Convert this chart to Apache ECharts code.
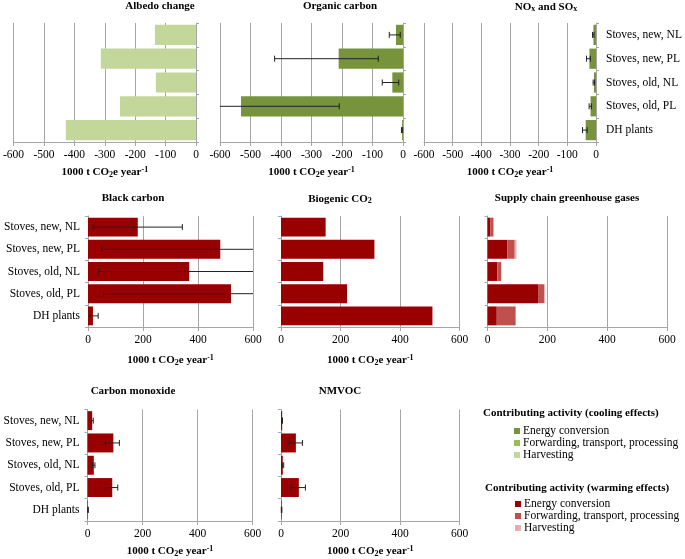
<!DOCTYPE html>
<html><head><meta charset="utf-8">
<script src="https://cdn.jsdelivr.net/npm/echarts@6/dist/echarts.min.js"></script>
<style>html,body{margin:0;padding:0;background:#fff}#c{width:685px;height:559px}</style>
</head><body><div id="c"></div>
<script>
// ---------- data ----------
const categories = ['Stoves, new, NL','Stoves, new, PL','Stoves, old, NL','Stoves, old, PL','DH plants'];
const negTicks = [-600,-500,-400,-300,-200,-100,0];
const posTicks = [0,200,400,600];

const albedoHarvest = [-135,-313,-132,-250,-428];

const ocEnergy = [-23,-211,-35,-531,-3];
const ocErrLow = [-45,-421,-68,-600,-5];
const ocErrHigh = [-9,-81,-14,-209,-1];

const noxEnergy = [-9,-23,-7,-19,-36];
const noxErrLow = [-12,-33,-10,-24,-47];
const noxErrHigh = [-7,-20,-5,-16,-31];

const bcEnergy = [181,481,368,520,18];
const bcErrLow = [19,50,37,56,0];
const bcErrHigh = [343,600,600,600,37];

const bioEnergy = [150,314,142,222,509];

const scEnergy = [9,66,33,169,31];
const scForward = [11,25,13,20,63];
const scHarvest = [0,6,0,4,0];

const coEnergy = [17,94,23,90,2];
const coErrLow = [14,65,18,65,1];
const coErrHigh = [21,116,27,110,3];

const nmEnergy = [4,50,6,60,2];
const nmErrLow = [3,27,4,34,1];
const nmErrHigh = [5,72,9,82,3];

// ---------- style ----------
const FONT = 'Liberation Serif';
const COOL = ['#77933c','#9bbb59','#c4d79b'];
const WARM = ['#990000','#c0504d','#e6b0b0'];
const GRID_C = '#a6a6a6';

const grids = [
  {left:13, top:23, width:183, height:119},
  {left:220, top:23, width:183, height:119},
  {left:424, top:23, width:172, height:119},
  {left:88, top:216, width:165, height:111},
  {left:281, top:216, width:178.5, height:111},
  {left:487.5, top:216, width:179.5, height:111},
  {left:87.5, top:409.5, width:165, height:112},
  {left:281, top:409.5, width:178.5, height:112}
];

const nameRich = {
  b:{fontFamily:FONT,fontWeight:'bold',fontSize:11,color:'#000'},
  sub:{fontFamily:FONT,fontWeight:'bold',fontSize:8,color:'#000',verticalAlign:'bottom',padding:[4,0,0,0]},
  sup:{fontFamily:FONT,fontWeight:'bold',fontSize:8,color:'#000',verticalAlign:'top',padding:[0,0,5,0]}
};
const axisNameText = '{b|1000 t CO}{sub|2}{b|e year}{sup|-1}';

function xAxisFor(i, neg, showName, gap) {
  const ticks = neg ? negTicks : posTicks;
  return {
    type:'value', gridIndex:i,
    min:ticks[0], max:ticks[ticks.length-1], interval:ticks[1]-ticks[0],
    axisLine:{show:true,lineStyle:{color:GRID_C,width:1}},
    axisTick:{show:true,length:4,lineStyle:{color:GRID_C}},
    axisLabel:{color:'#000',fontFamily:FONT,fontSize:11.5,margin:7},
    splitLine:{show:true,lineStyle:{color:GRID_C,width:1}},
    name: showName ? axisNameText : '',
    nameLocation:'middle', nameGap:gap,
    nameTextStyle:{rich:nameRich}
  };
}
function yAxisFor(i, pos, showLabels) {
  return {
    type:'category', gridIndex:i, data:categories, inverse:true, position:pos,
    axisLine:{show:true,onZero:false,lineStyle:{color:GRID_C,width:1}},
    axisTick:{show:true,length:3,lineStyle:{color:GRID_C}},
    axisLabel:{show:showLabels,color:'#000',fontFamily:FONT,fontSize:11.5,margin:pos==='right'?10:8},
    splitLine:{show:false}
  };
}
function bar(i, data, color, stack) {
  return {type:'bar', xAxisIndex:i, yAxisIndex:i, data:data, stack:stack,
    barCategoryGap:'15%', itemStyle:{color:color}, silent:true, z:3};
}
function errSeries(i, lo, hi, min, max) {
  return {
    type:'custom', xAxisIndex:i, yAxisIndex:i, z:10, silent:true,
    data: lo.map((l,k)=>[k,l,hi[k]]),
    encode:{x:[1,2], y:0},
    renderItem:function(params, api){
      const c = api.value(0), l = api.value(1), h = api.value(2);
      const p1 = api.coord([l,c]), p2 = api.coord([h,c]);
      const st = {stroke:'#222', lineWidth:1};
      const cap = 3;
      const ch = [{type:'line', shape:{x1:p1[0],y1:p1[1],x2:p2[0],y2:p2[1]}, style:st}];
      if (l > min) ch.push({type:'line', shape:{x1:p1[0],y1:p1[1]-cap,x2:p1[0],y2:p1[1]+cap}, style:st});
      if (h < max) ch.push({type:'line', shape:{x1:p2[0],y1:p2[1]-cap,x2:p2[0],y2:p2[1]+cap}, style:st});
      return {type:'group', children:ch};
    }
  };
}

const titleStyle = {fontFamily:FONT,fontWeight:'bold',fontSize:11,color:'#000',
  rich:{t:{fontFamily:FONT,fontWeight:'bold',fontSize:11,color:'#000'},
        s:{fontFamily:FONT,fontWeight:'bold',fontSize:8,color:'#000',verticalAlign:'bottom',padding:[4,0,0,0]}}};
function title(text, x, y) {
  return {text:text, left:x, top:y, textAlign:'center', padding:0, textStyle:titleStyle};
}

const option = {
  animation:false,
  backgroundColor:'#fff',
  title:[
    title('Albedo change',160,1),
    title('Organic carbon',340,1),
    title('{t|NO}{s|x}{t| and SO}{s|x}',546,1),
    title('Black carbon',133,193),
    title('{t|Biogenic CO}{s|2}',340,193),
    title('Supply chain greenhouse gases',567,193),
    title('Carbon monoxide',133,386),
    title('NMVOC',340,386)
  ],
  grid: grids,
  xAxis:[
    xAxisFor(0,true,true,24), xAxisFor(1,true,true,24), xAxisFor(2,true,true,24),
    xAxisFor(3,false,true,27), xAxisFor(4,false,true,27), xAxisFor(5,false,false,27),
    xAxisFor(6,false,true,24), xAxisFor(7,false,true,24)
  ],
  yAxis:[
    yAxisFor(0,'right',false), yAxisFor(1,'right',false), yAxisFor(2,'right',true),
    yAxisFor(3,'left',true), yAxisFor(4,'left',false), yAxisFor(5,'left',false),
    yAxisFor(6,'left',true), yAxisFor(7,'left',false)
  ],
  series:[
    bar(0, albedoHarvest, COOL[2]),
    bar(1, ocEnergy, COOL[0]), errSeries(1, ocErrLow, ocErrHigh, -600, 0),
    bar(2, noxEnergy, COOL[0]), errSeries(2, noxErrLow, noxErrHigh, -600, 0),
    bar(3, bcEnergy, WARM[0]), errSeries(3, bcErrLow, bcErrHigh, 0, 600),
    bar(4, bioEnergy, WARM[0]),
    bar(5, scEnergy, WARM[0], 'sc'), bar(5, scForward, WARM[1], 'sc'), bar(5, scHarvest, WARM[2], 'sc'),
    bar(6, coEnergy, WARM[0]), errSeries(6, coErrLow, coErrHigh, 0, 600),
    bar(7, nmEnergy, WARM[0]), errSeries(7, nmErrLow, nmErrHigh, 0, 600)
  ],
  graphic:[
    {type:'text', left:483, top:408, style:{text:'Contributing activity (cooling effects)', font:'bold 11px "Liberation Serif"', fill:'#000'}},
    {type:'rect', left:514, top:428, shape:{width:6,height:6}, style:{fill:COOL[0]}},
    {type:'text', left:523, top:425, style:{text:'Energy conversion', font:'11.5px "Liberation Serif"', fill:'#000'}},
    {type:'rect', left:514, top:440, shape:{width:6,height:6}, style:{fill:COOL[1]}},
    {type:'text', left:523, top:437, style:{text:'Forwarding, transport, processing', font:'11.5px "Liberation Serif"', fill:'#000'}},
    {type:'rect', left:514, top:452, shape:{width:6,height:6}, style:{fill:COOL[2]}},
    {type:'text', left:523, top:449, style:{text:'Harvesting', font:'11.5px "Liberation Serif"', fill:'#000'}},
    {type:'text', left:485, top:483, style:{text:'Contributing activity (warming effects)', font:'bold 11px "Liberation Serif"', fill:'#000'}},
    {type:'rect', left:515, top:501, shape:{width:6,height:6}, style:{fill:WARM[0]}},
    {type:'text', left:524, top:498, style:{text:'Energy conversion', font:'11.5px "Liberation Serif"', fill:'#000'}},
    {type:'rect', left:515, top:513, shape:{width:6,height:6}, style:{fill:WARM[1]}},
    {type:'text', left:524, top:510, style:{text:'Forwarding, transport, processing', font:'11.5px "Liberation Serif"', fill:'#000'}},
    {type:'rect', left:515, top:525, shape:{width:6,height:6}, style:{fill:WARM[2]}},
    {type:'text', left:524, top:522, style:{text:'Harvesting', font:'11.5px "Liberation Serif"', fill:'#000'}}
  ]
};
const chart = echarts.init(document.getElementById('c'), null, {renderer:'canvas'});
chart.setOption(option);
</script>
</body></html>
